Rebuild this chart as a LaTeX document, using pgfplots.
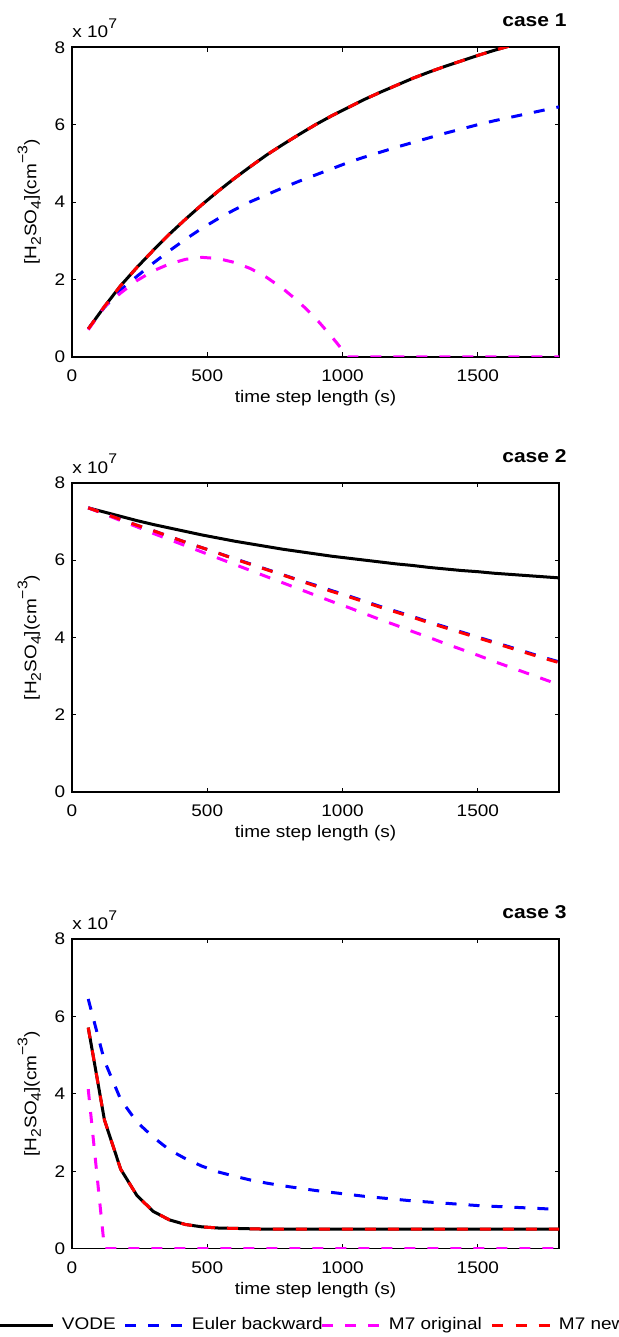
\documentclass[border=0pt]{standalone}
\usepackage{fontspec}
\setmainfont{Liberation Sans}[FakeStretch=1.13]
\usepackage{pgfplots}
\usepackage{pgfplotstable}
\pgfplotsset{compat=1.18}

\definecolor{mlmag}{rgb}{1,0,1}
\newcommand\fs{\fontsize{8.4}{10}\selectfont}
\newcommand\sub[1]{\raisebox{-2.2pt}{\fontsize{7}{7}\selectfont #1}}
\newcommand\sups[1]{\raisebox{4.6pt}{\fontsize{7}{7}\selectfont #1}}

% values in units of 1e7 cm^-3
\pgfplotstableread{
x    vode  euler orig  new
60   0.72  0.72  0.70  0.72
120  1.30  1.28  1.30  1.30
180  1.84  1.73  1.65  1.84
240  2.31  2.08  1.97  2.31
300  2.75  2.42  2.22  2.75
360  3.17  2.74  2.40  3.17
420  3.56  3.04  2.52  3.56
480  3.93  3.32  2.57  3.93
540  4.28  3.57  2.54  4.28
600  4.61  3.80  2.44  4.61
660  4.92  4.01  2.28  4.92
720  5.22  4.19  2.05  5.22
780  5.49  4.37  1.76  5.49
840  5.75  4.54  1.41  5.75
900  6.00  4.70  1.00  6.00
960  6.23  4.86  0.52  6.23
1020 6.44  5.02  0.00  6.44
1080 6.65  5.16  0.00  6.65
1140 6.84  5.29  0.00  6.84
1200 7.02  5.42  0.00  7.02
1260 7.20  5.54  0.00  7.20
1320 7.36  5.66  0.00  7.36
1380 7.51  5.78  0.00  7.51
1440 7.65  5.89  0.00  7.65
1500 7.79  6.00  0.00  7.79
1560 7.92  6.10  0.00  7.92
1620 8.04  6.19  0.00  8.04
1680 8.15  6.28  0.00  8.15
1740 8.26  6.37  0.00  8.26
1800 8.36  6.46  0.00  8.36
}\caseone

\pgfplotstableread{
x    vode  euler orig  new
60   7.35  7.35  7.35  7.35
120  7.24  7.20  7.19  7.20
180  7.13  7.05  7.02  7.05
240  7.02  6.90  6.86  6.90
300  6.92  6.76  6.69  6.76
360  6.83  6.61  6.53  6.61
420  6.74  6.46  6.37  6.46
480  6.65  6.32  6.21  6.32
540  6.57  6.18  6.05  6.18
600  6.49  6.04  5.89  6.03
660  6.42  5.90  5.73  5.89
720  6.35  5.76  5.57  5.75
780  6.28  5.62  5.41  5.61
840  6.22  5.48  5.25  5.47
900  6.16  5.35  5.09  5.33
960  6.10  5.21  4.93  5.19
1020 6.05  5.08  4.78  5.06
1080 6.00  4.94  4.62  4.92
1140 5.95  4.80  4.46  4.78
1200 5.90  4.67  4.31  4.65
1260 5.86  4.54  4.15  4.52
1320 5.81  4.40  4.00  4.38
1380 5.77  4.27  3.84  4.25
1440 5.73  4.14  3.69  4.12
1500 5.70  4.01  3.54  3.99
1560 5.66  3.88  3.38  3.86
1620 5.63  3.75  3.23  3.73
1680 5.60  3.62  3.08  3.60
1740 5.57  3.49  2.93  3.47
1800 5.54  3.37  2.78  3.35
}\casetwo

\pgfplotstableread{
x    vode  euler orig  new
60   5.71  6.45  4.12  5.71
120  3.32  4.85  0.00  3.32
180  2.05  3.85  0.00  2.05
240  1.37  3.27  0.00  1.37
300  0.96  2.88  0.00  0.96
360  0.74  2.55  0.00  0.74
420  0.62  2.32  0.00  0.62
480  0.56  2.13  0.00  0.56
540  0.53  1.98  0.00  0.53
600  0.52  1.87  0.00  0.52
660  0.51  1.77  0.00  0.51
720  0.50  1.69  0.00  0.50
780  0.50  1.62  0.00  0.50
840  0.50  1.56  0.00  0.50
900  0.50  1.50  0.00  0.50
960  0.50  1.45  0.00  0.50
1020 0.50  1.40  0.00  0.50
1080 0.50  1.35  0.00  0.50
1140 0.50  1.31  0.00  0.50
1200 0.50  1.27  0.00  0.50
1260 0.50  1.23  0.00  0.50
1320 0.50  1.20  0.00  0.50
1380 0.50  1.17  0.00  0.50
1440 0.50  1.14  0.00  0.50
1500 0.50  1.11  0.00  0.50
1560 0.50  1.09  0.00  0.50
1620 0.50  1.07  0.00  0.50
1680 0.50  1.05  0.00  0.50
1740 0.50  1.03  0.00  0.50
1800 0.50  1.01  0.00  0.50
}\casethree

\pgfplotsset{
  caseax/.style={
    scale only axis, width=243.5pt, height=154.75pt,
    xmin=0, xmax=1800, ymin=0, ymax=8,
    xtick={0,500,1000,1500}, ytick={0,2,4,6,8},
    clip mode=individual,
    tick align=inside, major tick length=2.2pt,
    axis line style={line width=0.8pt},
    every tick/.style={black, line width=0.4pt},
    tick label style={font=\fs},
    /pgf/number format/assume math mode=true,
    /pgf/number format/1000 sep={},
    xticklabel style={inner sep=0pt, yshift=-6.3pt},
    yticklabel style={inner sep=0pt, xshift=-3.15pt},
    every axis x label/.style={at={(axis description cs:0.5,0)}, anchor=north,
      yshift=-16.5pt, inner sep=0pt, font=\fs},
    every axis y label/.style={at={(axis description cs:-0.0729,0.5)}, rotate=90,
      anchor=base, inner sep=0pt, font=\fs},
    xlabel={time step length (s)},
    ylabel={[H\sub{2}SO\sub{4}](cm\sups{−3})},
  },
  vode/.style={black, solid, line width=1.5pt},
  euler/.style={blue, line width=1.5pt, dash pattern=on 5.5pt off 6pt},
  orig/.style={mlmag, line width=1.5pt, dash pattern=on 5.5pt off 6pt},
  new/.style={red, line width=1.5pt, dash pattern=on 5.5pt off 6pt},
}

\newcommand\decor[1]{%
  \node[anchor=base west, inner sep=0pt, font=\fs] at (rel axis cs:0,1)
    [yshift=4.8pt] {x 10\sups{7}};
  \node[anchor=base east, inner sep=0pt, font=\fontsize{9.3}{11}\selectfont\bfseries]
    at (rel axis cs:1,1) [xshift=4pt, yshift=10.3pt] {#1};
}

\begin{document}
\begin{tikzpicture}

\begin{axis}[caseax, at={(0pt,0pt)}, anchor=north west]
\addplot[vode] table[x=x, y=vode] {\caseone};
\addplot[euler] table[x=x, y=euler] {\caseone};
\addplot[orig] table[x=x, y=orig] {\caseone};
\addplot[new] table[x=x, y=new] {\caseone};
\decor{case 1}
\end{axis}

\begin{axis}[caseax, at={(0pt,-217.7pt)}, anchor=north west]
\addplot[vode] table[x=x, y=vode] {\casetwo};
\addplot[euler] table[x=x, y=euler] {\casetwo};
\addplot[orig] table[x=x, y=orig] {\casetwo};
\addplot[new] table[x=x, y=new] {\casetwo};
\decor{case 2}
\end{axis}

\begin{axis}[caseax, at={(0pt,-445.85pt)}, anchor=north west,
  legend columns=4,
  legend style={draw=none, fill=none, inner sep=0pt, outer sep=0pt,
    column sep=0pt, at={(axis description cs:0,0)}, anchor=west,
    xshift=-39pt, yshift=-38.35pt, font=\fs, nodes={inner sep=0pt},
    cells={anchor=west}},
  legend image code/.code={\draw[#1] (0pt,0pt) -- (29pt,0pt);},
]
\addplot[vode] table[x=x, y=vode] {\casethree};
\addlegendentry{\hspace*{3.5pt}\makebox[31pt][l]{VODE}}
\addplot[euler] table[x=x, y=euler] {\casethree};
\addlegendentry{\hspace*{3.5pt}\makebox[64.5pt][l]{Euler backward}}
\addplot[orig] table[x=x, y=orig] {\casethree};
\addlegendentry{\hspace*{3.5pt}\makebox[51pt][l]{M7 original}}
\addplot[new] table[x=x, y=new] {\casethree};
\addlegendentry{\hspace*{3.5pt}M7 new}
\decor{case 3}
\end{axis}

\pgfresetboundingbox
\path[use as bounding box] (-36pt,23.65pt) rectangle (273.5pt,-644.85pt);
\end{tikzpicture}
\end{document}
